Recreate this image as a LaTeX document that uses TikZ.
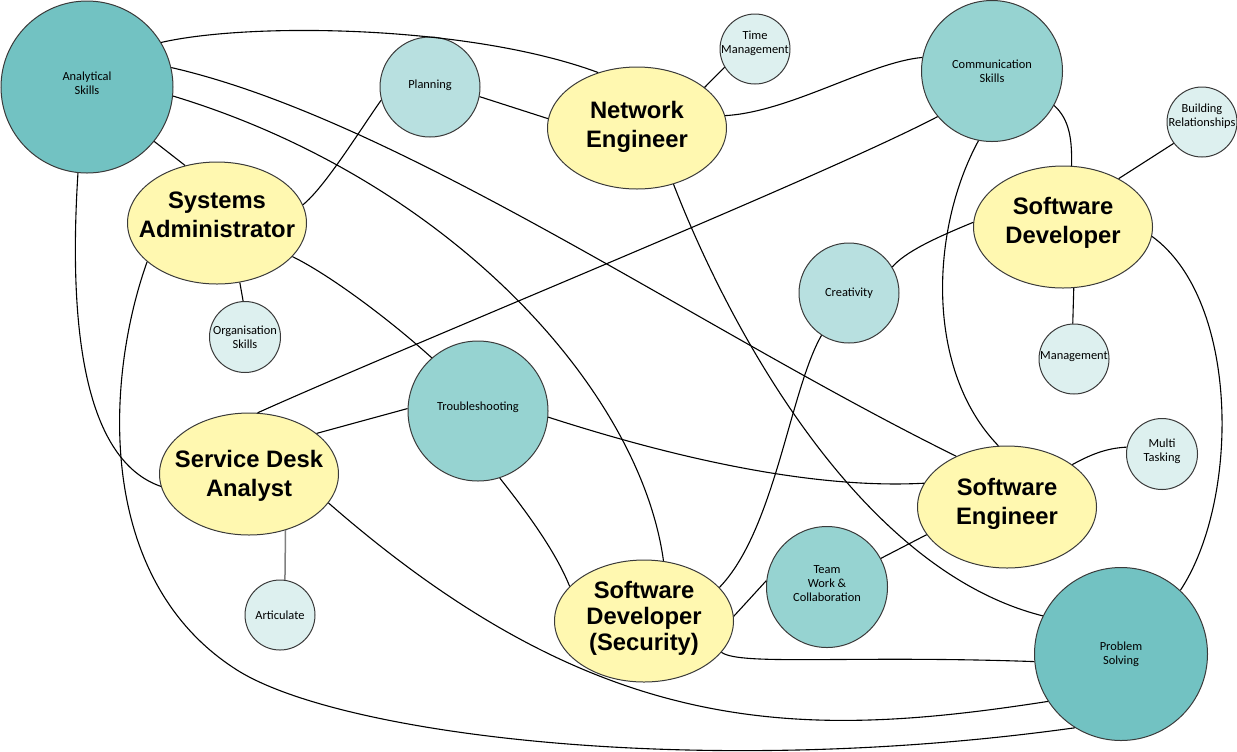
\documentclass[tikz,border=0pt]{standalone}
\usepackage{fontspec}
\setmainfont{Carlito}
\newfontfamily\rolefont{Liberation Sans}
\usetikzlibrary{shapes.geometric}
\definecolor{tealdark}{HTML}{72C2C2}
\definecolor{tealmid}{HTML}{96D3D1}
\definecolor{teallight}{HTML}{B8E0E0}
\definecolor{tealpale}{HTML}{DDF0EF}
\definecolor{rolefill}{HTML}{FFF8B0}
\definecolor{rim}{HTML}{3A3A3A}
\begin{document}
\begin{tikzpicture}[x=0.5pt,y=-0.5pt,
  role/.style={ellipse,draw=rim,line width=0.5pt,fill=rolefill,inner sep=0pt,
    minimum width=89.5pt,minimum height=61pt},
  roletext/.style={align=center,inner sep=0pt,
    font=\rolefont\bfseries\fontsize{11.9}{14.5}\selectfont},
  skill/.style 2 args={circle,draw=rim,line width=0.5pt,fill=#1,inner sep=0pt,
    minimum size=#2},
  skilltext/.style={align=center,inner sep=0pt,font=\fontsize{6.2}{7}\selectfont},
  link/.style={line width=0.55pt}]
\useasboundingbox (0,0) rectangle (1237,751);
% skills
\node[skill={tealdark}{86pt},label={[skilltext,yshift=2pt]center:Analytical\\Skills}] (anal) at (87,87) {};
\node[skill={teallight}{50pt},label={[skilltext,yshift=1pt]center:Planning}] (plan) at (430,87) {};
\node[skill={tealpale}{35pt},label={[skilltext,yshift=3pt]center:Time\\Management}] (time) at (755,49) {};
\node[skill={tealmid}{70.5pt},label={[skilltext]center:Communication\\Skills}] (comm) at (992,71) {};
\node[skill={tealpale}{35pt},label={[skilltext,yshift=3pt]center:Building\\Relationships}] (build) at (1202,122) {};
\node[skill={teallight}{50pt},label={[skilltext]center:Creativity}] (creat) at (849,293) {};
\node[skill={tealpale}{35.5pt},label={[skilltext]center:Organisation\\Skills}] (org) at (245,337) {};
\node[skill={tealpale}{35pt},label={[skilltext,yshift=1pt]center:Management}] (mgmt) at (1074,359) {};
\node[skill={tealmid}{70pt},label={[skilltext,yshift=2pt]center:Troubleshooting}] (trouble) at (478,411) {};
\node[skill={tealpale}{35.5pt},label={[skilltext,yshift=1.5pt]center:Multi\\Tasking}] (multi) at (1162,454) {};
\node[skill={tealmid}{60.5pt},label={[skilltext,yshift=1.5pt]center:Team\\Work \&\\Collaboration}] (team) at (827,587) {};
\node[skill={tealpale}{35pt},label={[skilltext]center:Articulate}] (artic) at (280,615) {};
\node[skill={tealdark}{86.5pt},label={[skilltext]center:Problem\\Solving}] (prob) at (1121,654) {};
% roles
\node[role,label={[roletext,yshift=0.75pt]center:Network\\Engineer}] (neteng) at (637,128) {};
\node[role,label={[roletext,yshift=4.25pt]center:Systems\\Administrator}] (sysadm) at (217,223) {};
\node[role,label={[roletext,yshift=2pt]center:Software\\Developer}] (softdev) at (1063,227) {};
\node[role,label={[roletext,yshift=-0.75pt]center:Service Desk\\Analyst}] (desk) at (249,474) {};
\node[role,label={[roletext,yshift=1.75pt]center:Software\\Engineer}] (softeng) at (1007,507) {};
\node[role,label={[roletext,yshift=1.5pt,font=\rolefont\bfseries\fontsize{11.9}{13}\selectfont]center:Software\\Developer\\(Security)}] (secdev) at (644,621) {};
% links
\draw[link] (anal.31) .. controls (250,22) and (470,25) .. (neteng.125);
\draw[link] (anal.13) .. controls (400,120) and (700,330) .. (softeng.135);
\draw[link] (anal.-6) .. controls (450,180) and (640,390) .. (secdev.72);
\draw[link] (anal.-39) -- (sysadm.119);
\draw[link] (anal.264) .. controls (68,330) and (85,460) .. (desk.188);
\draw[link] (sysadm.12) .. controls (325,187) and (360,130) .. (plan.195);
\draw[link] (sysadm.209) .. controls (105,380) and (95,580) .. (237,670)
  .. controls (340,735) and (700,780) .. (prob.238);
\draw[link] (sysadm.-69) -- (org.93);
\draw[link] (sysadm.-24) .. controls (330,275) and (390,320) .. (trouble.131);
\draw[link] (plan.-11) -- (neteng.174);
\draw[link] (neteng.31) -- (time.211);
\draw[link] (neteng.8) .. controls (790,112) and (870,62) .. (comm.169);
\draw[link] (neteng.-57) .. controls (730,330) and (860,570) .. (prob.154);
\draw[link] (comm.220) .. controls (820,178) and (420,340) .. (desk.82);
\draw[link] (comm.-29) .. controls (1070,120) and (1072,140) .. (softdev.82);
\draw[link] (comm.259) .. controls (930,230) and (925,370) .. (softeng.98);
\draw[link] (build.217) -- (softdev.41);
\draw[link] (softdev.177) .. controls (935,238) and (905,252) .. (creat.31);
\draw[link] (softdev.-80) -- (mgmt.92);
\draw[link] (softdev.-6) .. controls (1240,300) and (1240,500) .. (prob.47);
\draw[link] (creat.237) .. controls (790,390) and (775,530) .. (secdev.24);
\draw[link] (trouble.178) -- (desk.31);
\draw[link] (trouble.-5) .. controls (650,450) and (800,490) .. (softeng.164);
\draw[link] (trouble.-72) .. controls (525,510) and (555,550) .. (secdev.155);
\draw[link] (softeng.33) .. controls (1095,452) and (1110,448) .. (multi.169);
\draw[link] (softeng.199) -- (team.28);
\draw[link] (team.174) -- (secdev.3);
\draw[link,draw=gray,line width=0.75pt] (desk.-57) -- (artic.82);
\draw[link] (desk.-20) .. controls (600,740) and (800,740) .. (prob.213);
\draw[link] (secdev.-22) .. controls (740,666) and (850,655) .. (prob.185);
\end{tikzpicture}
\end{document}
